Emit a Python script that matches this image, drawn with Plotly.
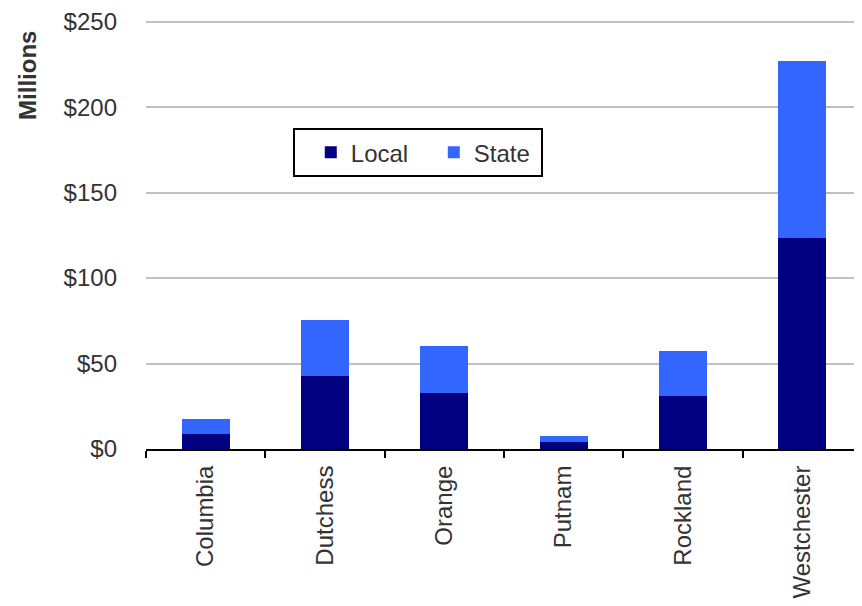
import plotly.graph_objects as go

counties = ["Columbia", "Dutchess", "Orange", "Putnam", "Rockland", "Westchester"]
local_vals = [8.8, 42.5, 32.7, 4.2, 31.0, 123.4]
state_vals = [8.9, 32.9, 27.7, 3.5, 26.4, 103.5]
y_ticks = [0, 50, 100, 150, 200, 250]
y_tick_labels = ["$0", "$50", "$100", "$150", "$200", "$250"]

FONT = "Liberation Sans, Arial, sans-serif"
TXT = "#333333"

fig = go.Figure()
fig.add_trace(go.Bar(name="Local", x=counties, y=local_vals,
                     marker=dict(color="#000080", line=dict(width=0))))
fig.add_trace(go.Bar(name="State", x=counties, y=state_vals,
                     marker=dict(color="#3366FF", line=dict(width=0))))

# page body has an 8px margin; figure is sized/offset to compensate
fig.update_layout(
    barmode="stack",
    bargap=0.6,
    width=854, height=598,
    margin=dict(l=138, r=0, t=9, b=157),
    plot_bgcolor="white", paper_bgcolor="white",
    font=dict(family=FONT, size=24, color=TXT),
    showlegend=True,
    legend=dict(
        orientation="h",
        x=0.205, xanchor="left",
        y=0.748, yanchor="top",
        bordercolor="black", borderwidth=2,
        bgcolor="white",
        font=dict(family=FONT, size=24, color=TXT),
        traceorder="normal",
        entrywidth=62,
        indentation=16,
    ),
    xaxis=dict(
        showline=True, linecolor="black", linewidth=2,
        ticks="outside", tickson="boundaries", ticklen=7, tickwidth=2, tickcolor="black",
        tickangle=-90, showgrid=False, ticklabelstandoff=5,
        tickfont=dict(family=FONT, size=24, color=TXT),
    ),
    yaxis=dict(
        range=[0, 251], tickvals=y_ticks, ticktext=y_tick_labels,
        showgrid=True, gridcolor="#c0c0c0", gridwidth=1.5,
        zeroline=False, showline=False, ticks="",
        ticklabelstandoff=28, ticklabeloverflow="allow",
        tickfont=dict(family=FONT, size=24, color=TXT),
    ),
    annotations=[dict(
        text="<b>Millions</b>", textangle=-90,
        xref="paper", yref="paper", x=-0.1646, y=0.87,
        xanchor="center", yanchor="middle", showarrow=False,
        font=dict(family=FONT, size=24, color=TXT),
    )],
)

fig.write_html("out.html")
